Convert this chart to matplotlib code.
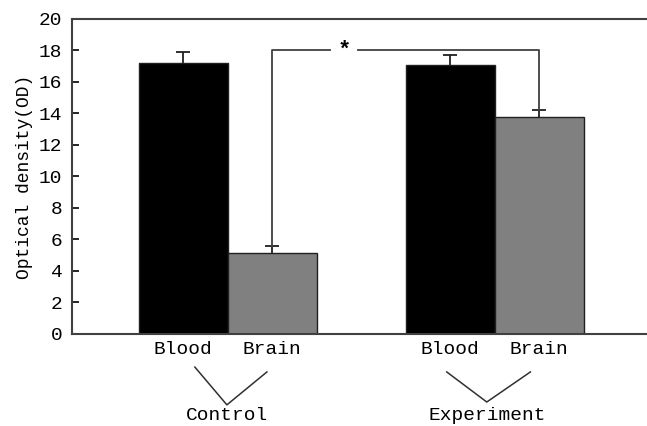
import numpy as np
import matplotlib.pyplot as plt

plt.rcParams['font.family'] = ['Liberation Mono', 'DejaVu Sans Mono']

# optical density per group
groups = ['Control', 'Experiment']
tissues = ['Blood', 'Brain']
od_mean = [17.2, 5.15, 17.1, 13.8]
od_err = [0.7, 0.45, 0.6, 0.4]
bar_colors = ['black', '#808080', 'black', '#808080']

x = np.array([1.25, 2.25, 4.25, 5.25])

fig = plt.figure(figsize=(6.47, 4.26), dpi=100)
ax = fig.add_axes([0.1113, 0.216, 0.8887, 0.7394])

ax.bar(x, od_mean, width=1.0, color=bar_colors, edgecolor='#202020', linewidth=1.0, zorder=2)
# lower half of each error bar sits behind the bar
ax.errorbar(x, od_mean, yerr=od_err, fmt='none', ecolor='#202020',
            elinewidth=1.3, capsize=5, capthick=1.3, zorder=1)

ax.set_xlim(0, 6.46)
ax.set_ylim(0, 20)
ax.set_yticks(np.arange(0, 21, 2))
ax.tick_params(axis='y', direction='in', length=5, width=1.2, pad=7, labelsize=14)
ax.set_xticks(x)
ax.set_xticklabels(tissues * 2, fontsize=14)
ax.tick_params(axis='x', length=0, pad=5)

for side in ['left', 'top', 'bottom']:
    ax.spines[side].set_color('#404040')
    ax.spines[side].set_linewidth(1.5)
ax.spines['right'].set_visible(False)

ax.set_ylabel('Optical density(OD)', fontsize=13, labelpad=4)

# significance bracket between control brain and experiment brain
top = 18.0
lc = '#404040'
ax.plot([x[1], x[1], 2.9], [od_mean[1] + od_err[1], top, top], color=lc, lw=1.3, zorder=4)
ax.plot([3.21, x[3], x[3]], [top, top, od_mean[3] + od_err[3]], color=lc, lw=1.3, zorder=4)
ax.text(3.06, top, '*', ha='center', va='center', fontsize=16, fontweight='bold')

# group labels below the axis
v_shapes = {
    'Control': ([1.38, 1.74, 2.19], [-2.1, -4.5, -2.41]),
    'Experiment': ([4.21, 4.66, 5.15], [-2.41, -4.32, -2.41]),
}
for name, (vx, vy) in v_shapes.items():
    ax.plot(vx, vy, color='#303030', lw=1.1, clip_on=False)
    ax.text(vx[1], -5.15, name, ha='center', va='center', fontsize=14)

fig.savefig('out.png', dpi=100)
